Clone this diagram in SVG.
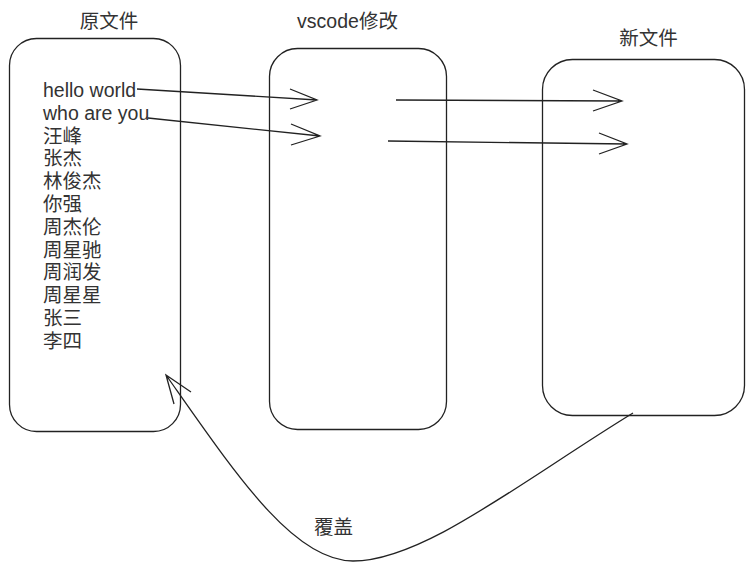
<svg xmlns="http://www.w3.org/2000/svg" width="755" height="571" viewBox="0 0 755 571">
<style>
.box{fill:#fff;stroke:#222;stroke-width:1.3}
.t{font-family:"Liberation Sans","Noto Sans CJK SC",sans-serif;font-size:19.5px;fill:#333}
.c{text-anchor:middle}
.e{fill:none;stroke:#222;stroke-width:1.3}
</style>
<rect width="755" height="571" fill="#fff"/>
<g id="node-original">
<rect class="box" x="9.5" y="38.5" width="171" height="393" rx="27" ry="27"/>
<text class="t c" x="109" y="28">原文件</text>
<text class="t" x="43" y="97">hello world</text>
<text class="t" x="43" y="119.8">who are you</text>
<text class="t" x="43" y="142.6">汪峰</text>
<text class="t" x="43" y="165.4">张杰</text>
<text class="t" x="43" y="188.2">林俊杰</text>
<text class="t" x="43" y="211">你强</text>
<text class="t" x="43" y="233.8">周杰伦</text>
<text class="t" x="43" y="256.6">周星驰</text>
<text class="t" x="43" y="279.4">周润发</text>
<text class="t" x="43" y="302.2">周星星</text>
<text class="t" x="43" y="325">张三</text>
<text class="t" x="43" y="347.8">李四</text>
</g>
<g id="node-vscode">
<rect class="box" x="269.5" y="48.5" width="177" height="381" rx="28" ry="28"/>
<text class="t c" x="347.5" y="28">vscode修改</text>
</g>
<g id="node-new">
<rect class="box" x="542.5" y="59.5" width="202" height="356" rx="30" ry="30"/>
<text class="t c" x="648.5" y="45">新文件</text>
</g>
<g id="connectors">
<path class="e" d="M137,89 L317,100 M290,89 L317,100 L290,109"/>
<path class="e" d="M148,118 L320,136 M291,124 L320,136 L291,145"/>
<path class="e" d="M396,100 L622,101 M593,90 L622,101 L593,111"/>
<path class="e" d="M388,141 L627,144 M599,133 L627,144 L599,154"/>
<path class="e" d="M633,413 C522,481 423,561 353,561 C293,561 235,473 166,375 M174,404 L166,375 L191,392"/>
<text class="t c" x="333.5" y="534">覆盖</text>
</g>
</svg>
